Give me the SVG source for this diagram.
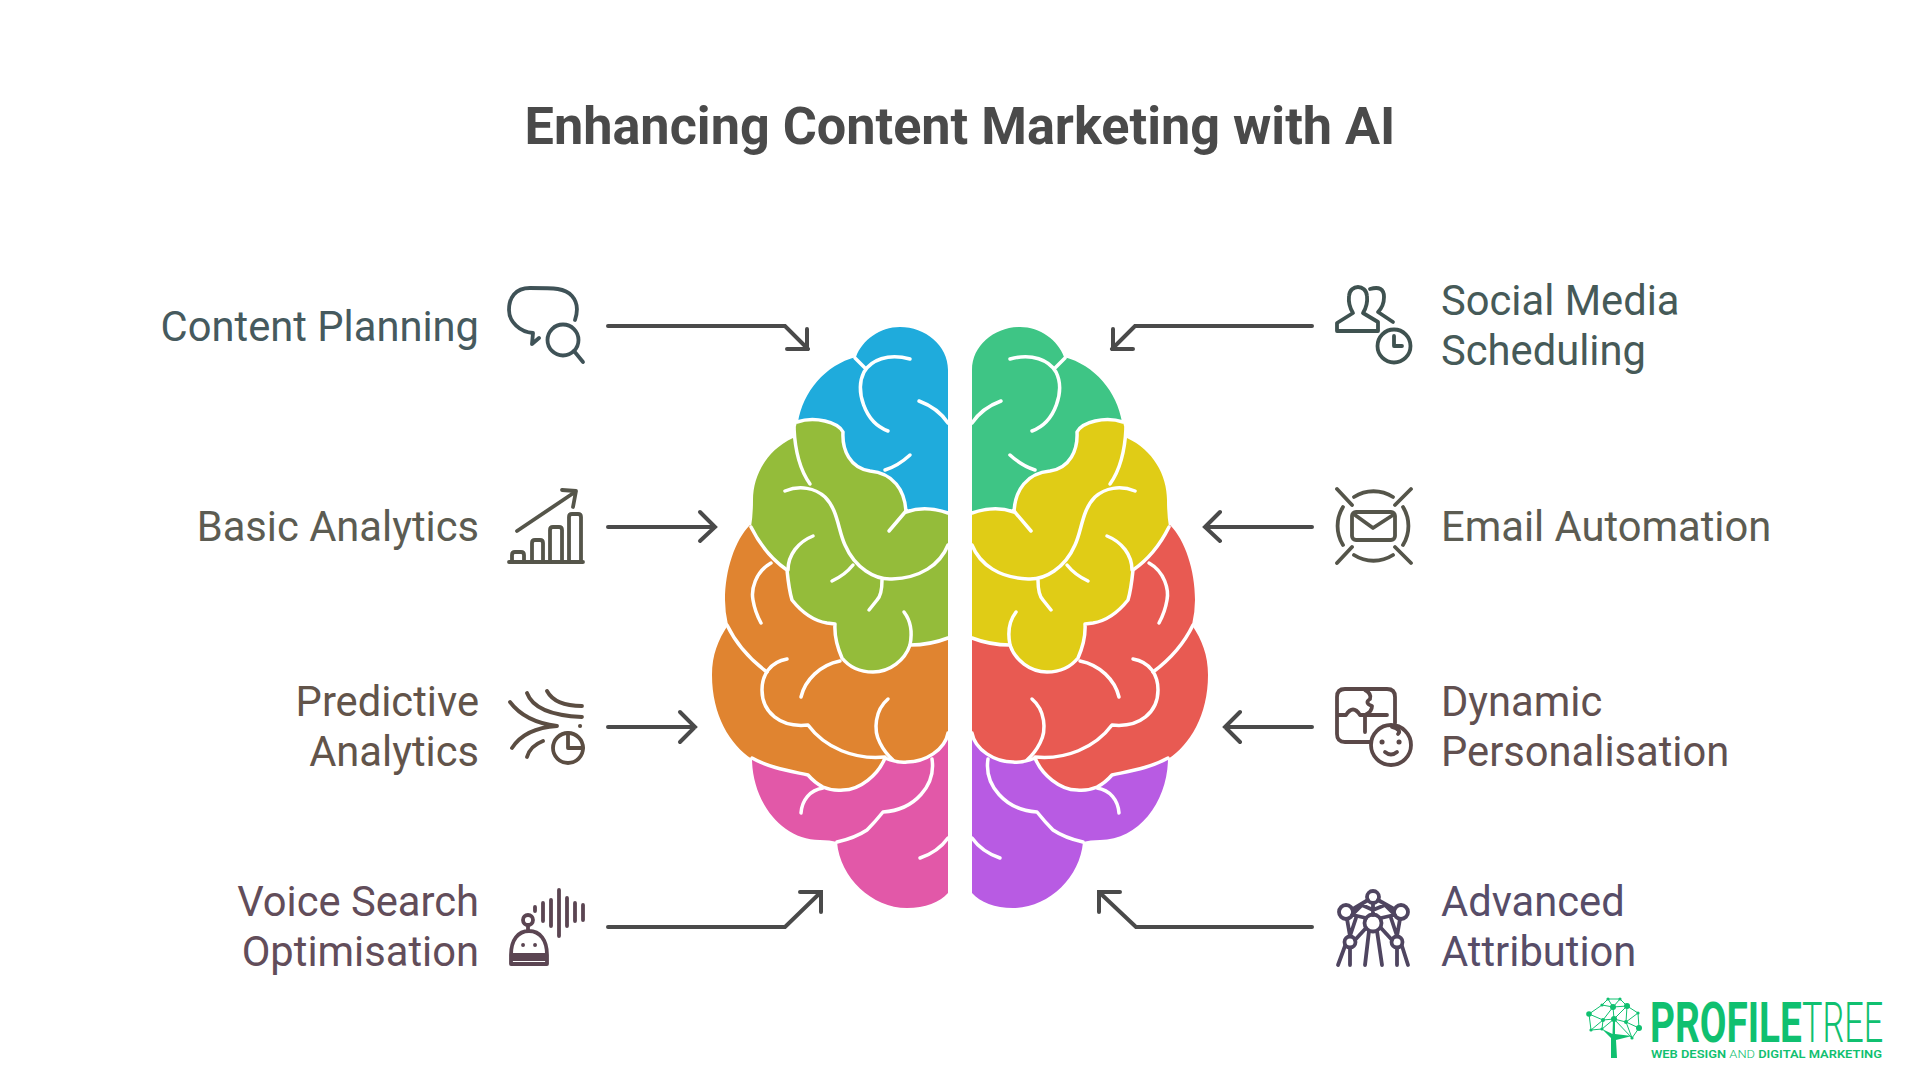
<svg xmlns="http://www.w3.org/2000/svg" xmlns:xlink="http://www.w3.org/1999/xlink" width="1920" height="1080" viewBox="0 0 1920 1080">
<style>
text{font-family:Roboto,"Liberation Sans",sans-serif}
.title{font-size:52.2px;font-weight:700;fill:#4a4a4a;text-anchor:middle}
.l{font-size:41.7px;text-anchor:end}
.r{font-size:41.7px;text-anchor:start}
.ic{fill:none;stroke-width:3.8;stroke-linecap:round;stroke-linejoin:round}
.cn{fill:none;stroke:#4a4a4a;stroke-width:4;stroke-linecap:round;stroke-linejoin:miter}
.cr{fill:none;stroke:#fff;stroke-width:3.5;stroke-linecap:round;stroke-linejoin:round}
.t1{stroke:#3f5257}.t2{stroke:#55554a}.t3{stroke:#5b4d42}.t4{stroke:#5b4552}.t5{stroke:#3f5250}.t6{stroke:#55554a}.t7{stroke:#5a4848}.t8{stroke:#4f4560}
.f1{fill:#465a5e}.f2{fill:#5c5c52}.f3{fill:#62544a}.f4{fill:#624d5a}.f5{fill:#465a58}.f6{fill:#5c5c52}.f7{fill:#615050}.f8{fill:#574d68}
.lg{fill:#10c070}
.lgl{fill:none;stroke:#10c070;stroke-width:1}
</style>
<defs>
<path id="b4" d="M752 758C752 800 780 840 820 840Q830 840 837 842C840 878 872 908 907 908C925 908 940 902 948 893V700H760Z"/>
<path id="b3" d="M750 525C735 540 725 570 725 600Q725 612 728 625C718 640 712 655 712 675C712 715 730 745 752 759C770 768 790 771 808 775Q815 783 823 787Q832 791 843 790C860 790 878 775 885 758C895 762 900 763 907 762C925 762 945 750 948 733V560H790Z"/>
<path id="b1" d="M948 370C948 345 925 327 900 327C880 327 862 340 856 357C825 365 803 392 798 422L870 500L948 520Z"/>
<path id="b2" d="M948 513Q925 505 906 512C905 490 893 473 870 471C850 468 842 450 843 432C838 422 815 416 797 422L793 438C767 450 753 475 753 500Q753 515 751 527Q765 555 787 570Q789 590 792 600Q808 620 827 623L835 624Q834 640 842 658C850 668 860 672 873 672C890 672 905 660 910 645Q930 645 948 638Z"/>
<g id="creases" class="cr">
<path d="M948 513Q925 505 906 512C905 490 893 473 870 471C850 468 842 450 843 432C838 422 815 416 797 422"/>
<path d="M751 527Q765 555 787 570Q789 590 792 600Q808 620 827 623L835 624Q834 640 842 658C850 668 860 672 873 672C890 672 905 660 910 645Q930 645 948 638"/>
<path d="M752 758C770 768 790 771 808 775Q815 783 823 787Q832 791 843 790C860 790 878 775 885 758C895 762 900 763 907 762C925 762 945 750 948 733"/>
<path d="M855 358L866 369M910 359C888 353 871 360 864 372C855 390 864 422 888 431"/>
<path d="M919 401Q938 408 948 423M910 455Q898 466 885 470"/>
<path d="M906 511L889 531"/>
<path d="M794 428C795 450 800 470 810 484"/>
<path d="M785 491C800 485 815 488 825 497C838 510 838 530 845 545C855 568 875 580 892 579C920 578 940 565 948 545"/>
<path d="M813 536C798 542 788 555 788 570M853 565Q845 575 832 581"/>
<path d="M882 580Q882 595 877 600L869 610M904 612Q914 625 910 645"/>
<path d="M771 563C755 572 751 590 753 600Q755 612 761 623"/>
<path d="M727 625Q740 652 767 672"/>
<path d="M787 659C770 662 762 675 762 690C762 712 780 728 808 725C825 748 855 760 885 757"/>
<path d="M840 661C820 665 805 680 801 697"/>
<path d="M888 699C875 710 873 730 880 743Q885 753 893 760"/>
<path d="M932 759C936 785 915 810 883 812Q875 822 867 830Q855 838 837 842"/>
<path d="M823 788C810 790 802 800 801 813"/>
<path d="M948 838Q938 852 920 858"/>
</g>
</defs>
<rect width="1920" height="1080" fill="#fff"/>
<text class="title" x="960" y="144">Enhancing Content Marketing with AI</text>
<g id="brain-left">
<use href="#b4" fill="#e258a8"/><use href="#b3" fill="#e08430"/><use href="#b1" fill="#1fabdc"/><use href="#b2" fill="#94bc3a"/><use href="#creases"/>
</g>
<g id="brain-right" transform="translate(1920 0) scale(-1 1)">
<use href="#b4" fill="#b85be3"/><use href="#b3" fill="#e85a52"/><use href="#b1" fill="#3ec585"/><use href="#b2" fill="#e0cc16"/><use href="#creases"/>
</g>
<g id="connectors" class="cn">
<path d="M608 326H785L808 349M807 329V349H787"/>
<path d="M608 527H715M700 512L715 527L700 541"/>
<path d="M608 727H695M680 712L695 727L680 742"/>
<path d="M608 927H785L820 893M800 892H821V912"/>
<path d="M1312 326H1135L1112 349M1113 329V349H1133"/>
<path d="M1312 527H1205M1220 512L1205 527L1220 541"/>
<path d="M1312 727H1225M1240 712L1225 727L1240 742"/>
<path d="M1312 927H1136L1100 893M1120 892H1099V912"/>
</g>
<g id="content-planning">
<text class="l f1" x="479" y="341">Content Planning</text>
<g class="ic t1"><path d="M575 320Q580 305 572 296C565 288 555 288 530 288C515 288 509 298 509 310C509 322 520 332 533 333L532 344L539 338"/><circle cx="563" cy="340" r="15.5"/><path d="M574 351L583 362"/></g>
</g>
<g id="basic-analytics">
<text class="l f2" x="479" y="541">Basic Analytics</text>
<g class="ic t2"><path d="M517 531L575 492M562 490L576 491L573 507M509 562H583"/><path d="M512 562V555Q512 552 515 552H521Q524 552 524 555V562M532 562V543Q532 540 535 540H540Q543 540 543 543V562M550 562V530Q550 527 553 527H559Q562 527 562 530V562M569 562V517Q569 514 572 514H578Q581 514 581 517V562"/></g>
</g>
<g id="predictive-analytics">
<text class="l f3" x="479" y="716">Predictive</text><text class="l f3" x="479" y="766">Analytics</text>
<g class="ic t3"><path d="M510 702Q525 722 557 726Q525 728 512 748M527 757Q530 746 543 741M527 693Q535 715 582 717M547 691Q555 706 582 706"/><path d="M580 726h.1" stroke-width="4"/><circle cx="568" cy="748" r="15"/><path d="M568 733V748H583"/></g>
</g>
<g id="voice-search">
<text class="l f4" x="479" y="916">Voice Search</text><text class="l f4" x="479" y="966">Optimisation</text>
<g class="ic t4"><path d="M511 955C511 940 518 931 529 931C540 931 547 940 547 955M511 955H547V964H511ZM528 925V931M523 945h.1M535 945h.1M511 959H547"/><circle cx="528" cy="920" r="5"/><path d="M535 907V911M543 903V921M551 900V926M559 890V936M567 898V926M575 903V921M583 905V920"/></g>
</g>
<g id="social-media">
<text class="r f5" x="1441" y="315">Social Media</text><text class="r f5" x="1441" y="365">Scheduling</text>
<g class="ic t5"><path d="M1337 331H1378V322L1363 313Q1368 305 1367 296C1366 284 1350 284 1349 296Q1348 305 1353 313L1337 323Z"/><path d="M1370 289Q1384 285 1384 297Q1384 306 1378 312L1393 322"/><circle cx="1394" cy="346" r="16.5"/><path d="M1394 336V346H1402"/></g>
</g>
<g id="email-automation">
<text class="r f6" x="1441" y="541">Email Automation</text>
<g class="ic t6"><rect x="1352" y="512" width="43" height="28" rx="4"/><path d="M1355 515L1373 528L1393 515M1337 489L1352 505M1411 489L1395 505M1337 563L1352 547M1411 563L1395 547"/><path d="M1354 497A36 36 0 0 1 1393 497M1343 507A36 36 0 0 0 1343 545M1403 507A36 36 0 0 1 1403 545M1354 555A36 36 0 0 0 1393 555"/></g>
</g>
<g id="dynamic-personalisation">
<text class="r f7" x="1441" y="716">Dynamic</text><text class="r f7" x="1441" y="766">Personalisation</text>
<g class="ic t7"><path d="M1395 723V697Q1395 689 1387 689H1345Q1337 689 1337 697V734Q1337 742 1345 742H1370M1337 715H1346Q1353 704 1360 715H1387M1365 690Q1372 694 1370 699Q1364 703 1372 706Q1372 712 1365 715V732"/><circle cx="1391" cy="745" r="20"/><path d="M1385 752Q1391 757 1397 752M1392 727Q1402 730 1398 734"/><path d="M1382 742h.1M1399 742h.1" stroke-width="5"/></g>
</g>
<g id="advanced-attribution">
<text class="r f8" x="1441" y="916">Advanced</text><text class="r f8" x="1441" y="966">Attribution</text>
<g class="ic t8"><circle cx="1373" cy="897" r="6"/><circle cx="1346" cy="912" r="7"/><circle cx="1401" cy="912" r="7"/><circle cx="1373" cy="923" r="8.5"/><circle cx="1350" cy="942" r="5.5"/><circle cx="1397" cy="942" r="5.5"/><path d="M1353 909L1368 900M1394 909L1378 900M1373 903V915M1352 915L1362 905L1373 910L1385 905L1395 915M1353 915L1366 918M1394 915L1381 918M1356 918L1350 936M1391 918L1397 936M1347 919L1350 936M1400 919L1397 936M1366 928L1355 940M1381 928L1392 940M1345 946L1338 965M1350 948V965M1369 931L1365 965M1377 931L1382 965M1397 948V965M1402 946L1408 965"/></g>
</g>
<g id="logo">
<g class="lgl"><path d="M1589 1014L1602 1005L1608 999L1620 999L1627 1006L1638 1013L1639 1028L1632 1038L1626 1022L1614 1019L1603 1020L1589 1014L1591 1030L1602 1029L1603 1020L1613 1007L1602 1005M1608 999L1613 1007L1627 1006L1614 1019L1613 1007M1620 999L1613 1007M1627 1006L1626 1022L1639 1028M1638 1013L1626 1022M1614 1019L1632 1038M1602 1029L1614 1019M1591 1030L1603 1020"/></g>
<g class="lg"><circle cx="1589" cy="1014" r="2.8"/><circle cx="1591" cy="1030" r="1.6"/><circle cx="1602" cy="1005" r="1.6"/><circle cx="1608" cy="999" r="1.6"/><circle cx="1620" cy="999" r="1.6"/><circle cx="1613" cy="1007" r="3"/><circle cx="1627" cy="1006" r="3"/><circle cx="1638" cy="1013" r="1.6"/><circle cx="1639" cy="1028" r="3"/><circle cx="1632" cy="1038" r="1.6"/><circle cx="1626" cy="1022" r="2"/><circle cx="1614" cy="1019" r="3"/><circle cx="1603" cy="1020" r="2"/><circle cx="1602" cy="1029" r="1.6"/><path d="M1611 1058H1617L1616 1040L1632 1036L1615 1034L1615 1019H1613L1612.5 1034L1602 1029L1611 1038Z"/></g>
<text class="lg" transform="translate(1650 1042) scale(.69 1)" font-size="56" font-weight="700" textLength="220" lengthAdjust="spacingAndGlyphs">PROFILE</text>
<text class="lg" transform="translate(1802 1042) scale(.62 1)" font-size="56" font-weight="300" textLength="131" lengthAdjust="spacingAndGlyphs">TREE</text>
<text class="lg" x="1651" y="1058" font-size="11.5" font-weight="600" textLength="231" lengthAdjust="spacingAndGlyphs">WEB DESIGN <tspan font-weight="300">AND</tspan> DIGITAL MARKETING</text>
</g>
</svg>
